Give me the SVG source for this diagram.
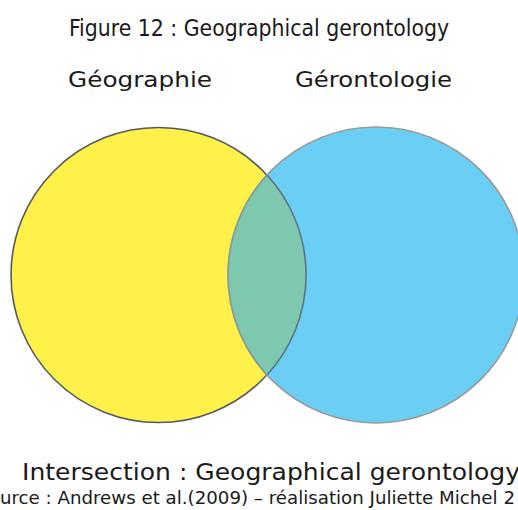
<svg xmlns="http://www.w3.org/2000/svg" width="518" height="510" viewBox="0 0 518 510">
<style>
text{fill:#1a1a1a;font-family:"DejaVu Sans","Liberation Sans",sans-serif}
.title{font-size:23px;font-stretch:condensed}
.lbl{font-size:21px}
.inter{font-size:22.5px}
.src{font-size:18px;font-stretch:condensed}
</style>
<rect width="518" height="510" fill="#ffffff"/>
<text class="title" x="69" y="36" textLength="380" lengthAdjust="spacingAndGlyphs">Figure 12 : Geographical gerontology</text>
<g id="geographie">
<circle cx="158.5" cy="275" r="147.5" fill="#FFF04A" stroke="#555a60" stroke-width="1.6"/>
<text class="lbl" x="68" y="87" textLength="144" lengthAdjust="spacingAndGlyphs">Géographie</text>
</g>
<g id="gerontologie">
<circle cx="376" cy="275" r="148" fill="#6BCEF5" stroke="#9a9a9a" stroke-width="1.6"/>
<text class="lbl" x="295" y="87" textLength="157" lengthAdjust="spacingAndGlyphs">Gérontologie</text>
</g>
<g id="intersection">
<path d="M267,175 A147.5,147.5 0 0,1 267,375 A148,148 0 0,1 267,175 Z" fill="#7DC8AF"/>
<path d="M267,175 A147.5,147.5 0 0,1 267,375" fill="none" stroke="#5d7380" stroke-width="1.6"/>
<path d="M267,375 A148,148 0 0,1 267,175" fill="none" stroke="#8c9a95" stroke-width="1.6"/>
</g>
<g id="connectors"/>
<text class="inter" x="22" y="480" textLength="498" lengthAdjust="spacingAndGlyphs">Intersection : Geographical gerontology</text>
<text class="src" x="0" y="504" textLength="515" lengthAdjust="spacingAndGlyphs">urce : Andrews et al.(2009) – réalisation Juliette Michel 2</text>
</svg>
